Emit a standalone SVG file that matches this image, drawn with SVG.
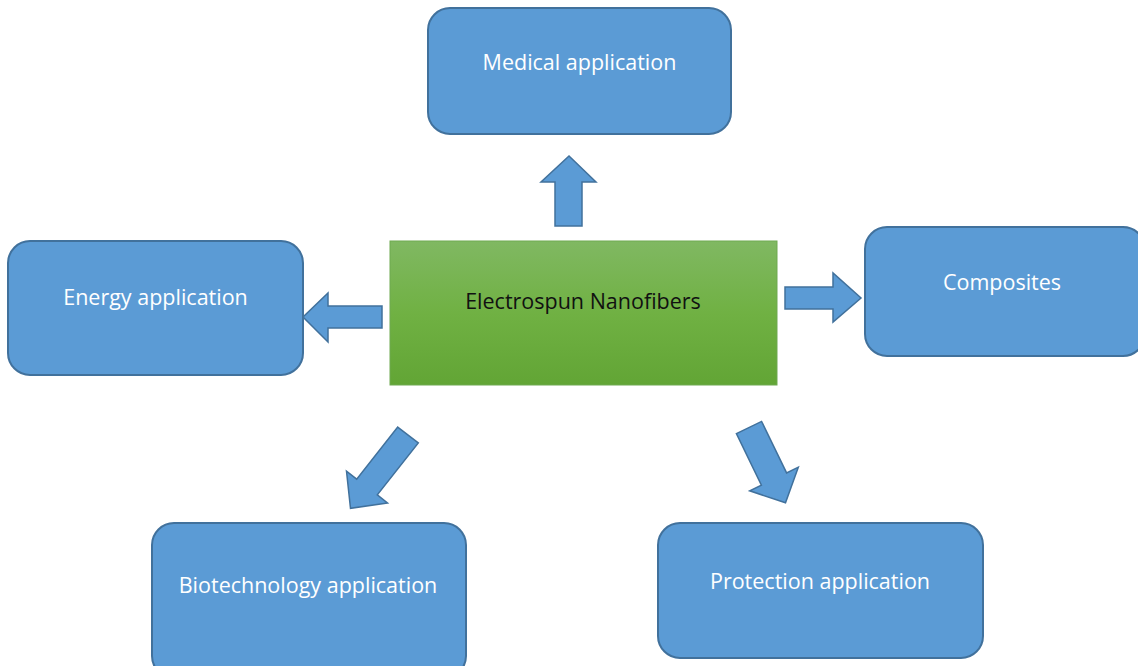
<svg xmlns="http://www.w3.org/2000/svg" width="1138" height="666" viewBox="0 0 1138 666">
<defs>
<linearGradient id="g" x1="0" y1="0" x2="0" y2="1">
<stop offset="0" stop-color="#80b862"/>
<stop offset="0.5" stop-color="#70b143"/>
<stop offset="1" stop-color="#62a535"/>
</linearGradient>
</defs>
<style>
.box{fill:#5b9bd5;stroke:#41719c;stroke-width:2}
.arr{fill:#5b9bd5;stroke:#41719c;stroke-width:1.5;stroke-linejoin:miter}
.lbl{font-family:"Open Sans","Noto Sans",sans-serif;font-size:21.5px;fill:#ffffff;text-anchor:middle}
.ctr{font-family:"Open Sans","Noto Sans",sans-serif;font-size:21.5px;fill:#111111;text-anchor:middle}
</style>
<rect width="1138" height="666" fill="#ffffff"/>
<g id="center">
<rect x="390" y="241" width="387" height="144" fill="url(#g)" stroke="#6fa950" stroke-width="1"/>
<text class="ctr" x="583" y="309">Electrospun Nanofibers</text>
</g>
<g id="medical">
<rect class="box" x="428" y="8" width="303" height="126" rx="22"/>
<text class="lbl" x="579.5" y="70">Medical application</text>
</g>
<g id="energy">
<rect class="box" x="8" y="241" width="295" height="134" rx="22"/>
<text class="lbl" x="155.5" y="305">Energy application</text>
</g>
<g id="composites">
<rect class="box" x="865" y="227" width="280" height="129" rx="22"/>
<text class="lbl" x="1002" y="290">Composites</text>
</g>
<g id="biotech">
<rect class="box" x="152" y="523" width="314" height="155" rx="22"/>
<text class="lbl" x="308" y="593">Biotechnology application</text>
</g>
<g id="protection">
<rect class="box" x="658" y="523" width="325" height="135" rx="22"/>
<text class="lbl" x="820" y="589">Protection application</text>
</g>
<g id="connectors">
<polygon class="arr" points="555,226 582,226 582,182 596,182 569,156 541,182 555,182"/>
<polygon class="arr" points="382,306 382,328 328,328 328,342 303,317 328,293 328,306"/>
<polygon class="arr" points="785,287 833,287 833,273 861,298 833,322 833,309 785,309"/>
<polygon class="arr" points="397.7,427.1 418.3,442.9 377.3,494.9 387.5,502.9 350.5,508.3 346.5,471.1 356.7,479.1"/>
<polygon class="arr" points="736.4,433.6 761.6,421.4 786.6,472.9 798.3,467.2 785.5,502.8 749.7,490.8 761.4,485.1"/>
</g>
</svg>
